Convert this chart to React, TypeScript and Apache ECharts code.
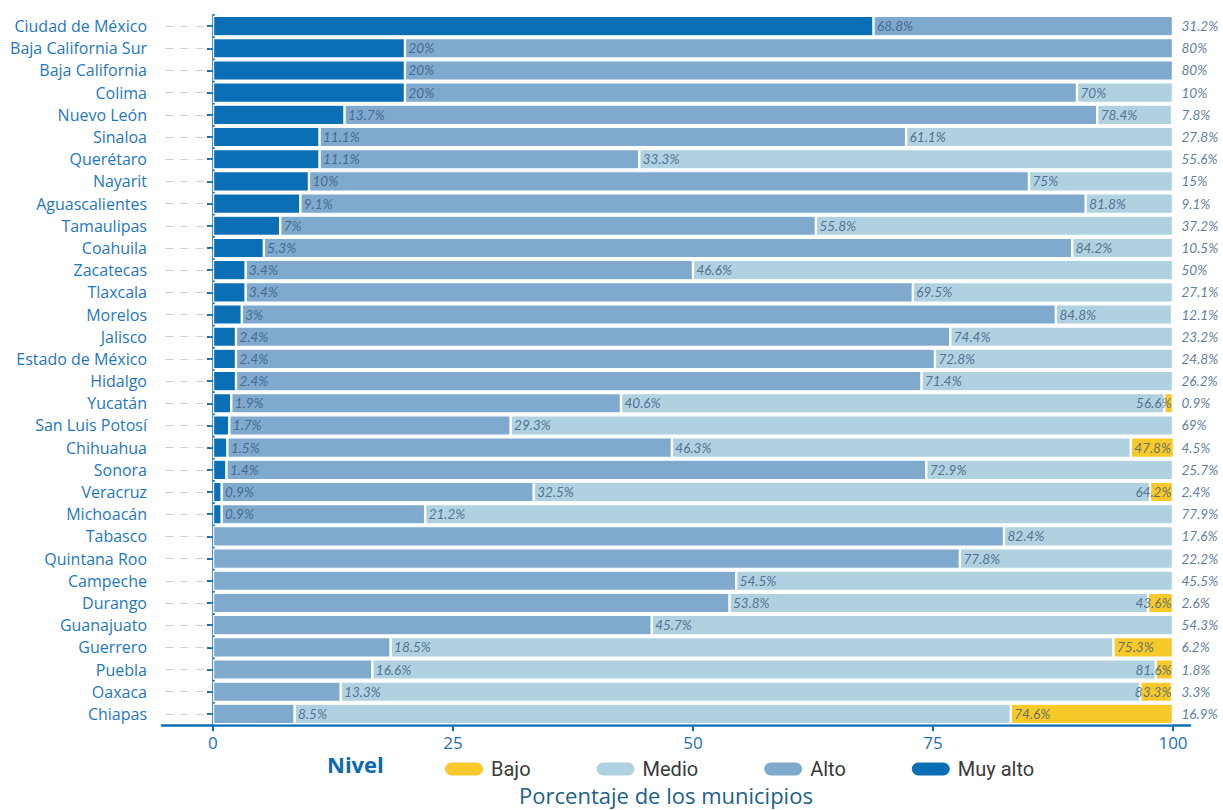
import React, { useEffect, useRef } from "react";
import * as echarts from "echarts";

const states = [
  "Ciudad de México", "Baja California Sur", "Baja California", "Colima", "Nuevo León",
  "Sinaloa", "Querétaro", "Nayarit", "Aguascalientes", "Tamaulipas", "Coahuila",
  "Zacatecas", "Tlaxcala", "Morelos", "Jalisco", "Estado de México", "Hidalgo",
  "Yucatán", "San Luis Potosí", "Chihuahua", "Sonora", "Veracruz", "Michoacán",
  "Tabasco", "Quintana Roo", "Campeche", "Durango", "Guanajuato", "Guerrero",
  "Puebla", "Oaxaca", "Chiapas",
];

const muyAlto = [68.8, 20, 20, 20, 13.7, 11.1, 11.1, 10, 9.1, 7, 5.3, 3.4, 3.4, 3, 2.4, 2.4, 2.4, 1.9, 1.7, 1.5, 1.4, 0.9, 0.9, 0, 0, 0, 0, 0, 0, 0, 0, 0];
const alto = [31.2, 80, 80, 70, 78.4, 61.1, 33.3, 75, 81.8, 55.8, 84.2, 46.6, 69.5, 84.8, 74.4, 72.8, 71.4, 40.6, 29.3, 46.3, 72.9, 32.5, 21.2, 82.4, 77.8, 54.5, 53.8, 45.7, 18.5, 16.6, 13.3, 8.5];
const medio = [0, 0, 0, 10, 7.8, 27.8, 55.6, 15, 9.1, 37.2, 10.5, 50, 27.1, 12.1, 23.2, 24.8, 26.2, 56.6, 69, 47.8, 25.7, 64.2, 77.9, 17.6, 22.2, 45.5, 43.6, 54.3, 75.3, 81.6, 83.3, 74.6];
const bajo = [0, 0, 0, 0, 0, 0, 0, 0, 0, 0, 0, 0, 0, 0, 0, 0, 0, 0.9, 0, 4.5, 0, 2.4, 0, 0, 0, 0, 2.6, 0, 6.2, 1.8, 3.3, 16.9];

const levelNames = ["Muy alto", "Alto", "Medio", "Bajo"];
const levelColors = ["#0b6fb6", "#7fa9cd", "#afd1e0", "#f8c92a"];
const levelValues = [muyAlto, alto, medio, bajo];
const legendOrder = ["Bajo", "Medio", "Alto", "Muy alto"];
const xTicks = [0, 25, 50, 75, 100];

const X_MIN = -5.31;
const X_MAX = 101.77;

export default function App() {
  const ref = useRef<HTMLDivElement>(null);

  useEffect(() => {
    if (!ref.current) return;
    const chart = echarts.init(ref.current, undefined, { renderer: "svg" });

    const pxPerUnit = 1028 / (X_MAX - X_MIN);
    const estWidth = (t: string) => {
      let w = 0;
      for (const ch of t) w += ch === "%" ? 10.5 : ch === "." ? 3.4 : 7;
      return w;
    };

    const labelStyle = {
      fontFamily: "Lato",
      fontStyle: "italic" as const,
      fontSize: 13.5,
      color: "#35597c",
    };

    const labelData: any[] = [];
    states.forEach((st, i) => {
      const segs = levelValues
        .map((arr) => arr[i])
        .map((v, k) => ({ v, k }))
        .filter((s) => s.v > 0);
      let cum = 0;
      segs.forEach((s, j) => {
        cum += s.v;
        const text = `${s.v}%`;
        if (j === segs.length - 1) {
          labelData.push({
            value: [100, st],
            label: { position: "right", distance: 8, formatter: text },
          });
        } else {
          const endPx = cum * pxPerUnit + 4 + estWidth(text);
          const limitPx = 100 * pxPerUnit + 2;
          if (endPx > limitPx) {
            labelData.push({
              value: [100, st],
              label: { position: "left", distance: 1, formatter: text },
            });
          } else {
            labelData.push({
              value: [cum, st],
              label: { position: "right", distance: 3, formatter: text },
            });
          }
        }
      });
    });

    const barSeries = levelNames.map((name, k) => ({
      name,
      type: "bar",
      stack: "total",
      barWidth: 20.5,
      itemStyle: { color: levelColors[k], borderColor: "#ffffff", borderWidth: 1.2 },
      data: levelValues[k].map((v) => (v > 0 ? v : "-")),
      z: 2,
      ...(k === 0
        ? {
            markLine: {
              silent: true,
              symbol: "none",
              animation: false,
              label: { show: false },
              lineStyle: { color: "#cfcfcf", type: [8, 7], width: 1 },
              data: states.map((st) => [
                { coord: [X_MIN + 0.35, st] },
                { coord: [-0.2, st] },
              ]),
            },
          }
        : {}),
    }));

    const option: any = {
      animation: false,
      backgroundColor: "#ffffff",
      grid: { left: 162, top: 15, width: 1028, height: 710, containLabel: false },
      legend: {
        data: legendOrder,
        left: 438,
        top: 754,
        itemWidth: 40,
        itemHeight: 15,
        itemGap: 64,
        icon: "path://M7.5,0 H32.5 A7.5,7.5 0 0 1 32.5,15 H7.5 A7.5,7.5 0 0 1 7.5,0 Z",
        selectedMode: false,
        textStyle: {
          fontFamily: "Roboto",
          fontSize: 20,
          color: "#3a3a3a",
          padding: [0, 0, 0, 2],
        },
      },
      graphic: [
        {
          type: "text",
          left: 327,
          top: 753,
          style: {
            text: "Nivel",
            fontFamily: "Open Sans",
            fontWeight: 700,
            fontSize: 22,
            fill: "#0b6ab0",
          },
        },
        {
          type: "text",
          x: 666,
          y: 795,
          style: {
            text: "Porcentaje de los municipios",
            fontFamily: "Open Sans",
            fontSize: 22,
            fill: "#215f8b",
            align: "center",
            verticalAlign: "middle",
          },
        },
      ],
      xAxis: {
        type: "value",
        min: X_MIN,
        max: X_MAX,
        splitLine: { show: false },
        axisLine: { show: true, lineStyle: { color: "#0b6fb6", width: 2.5 } },
        axisTick: {
          show: true,
          customValues: xTicks,
          length: 6,
          lineStyle: { color: "#0b6fb6", width: 2 },
        },
        axisLabel: {
          customValues: xTicks,
          margin: 9,
          fontFamily: "Open Sans",
          fontSize: 17,
          color: "#1c71b6",
        },
      },
      yAxis: {
        type: "category",
        inverse: true,
        data: states,
        axisLine: { show: true, lineStyle: { color: "#0b6fb6", width: 2.5 } },
        axisTick: {
          show: true,
          alignWithLabel: true,
          length: 6,
          lineStyle: { color: "#0b6fb6", width: 2 },
        },
        axisLabel: {
          margin: 15,
          fontFamily: "Open Sans",
          fontSize: 16,
          color: "#1f77bd",
        },
        splitLine: { show: false },
      },
      series: [
        ...barSeries,
        {
          name: "labels",
          type: "scatter",
          symbolSize: 1,
          itemStyle: { color: "rgba(0,0,0,0)" },
          silent: true,
          z: 5,
          label: { show: true, ...labelStyle },
          data: labelData,
        },
      ],
    };

    chart.setOption(option);
    return () => chart.dispose();
  }, []);

  return (
    <div
      ref={ref}
      style={{ position: "absolute", left: 0, top: 0, width: 1223, height: 810 }}
    />
  );
}
